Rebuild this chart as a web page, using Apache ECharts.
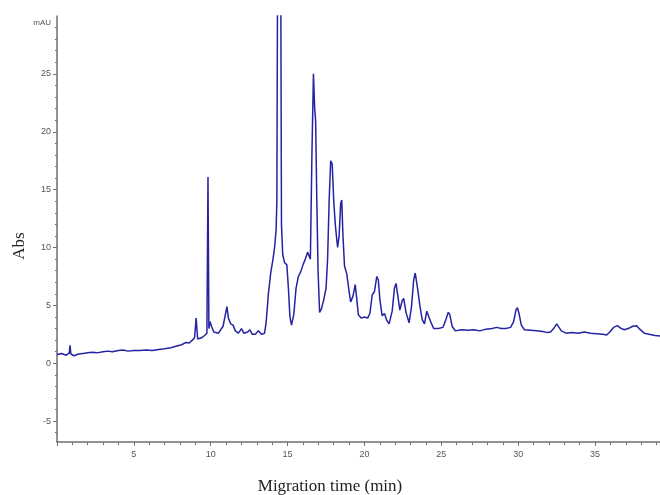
<!DOCTYPE html>
<html>
<head>
<meta charset="utf-8">
<script src="https://cdn.jsdelivr.net/npm/echarts@6/dist/echarts.min.js"></script>
<style>
  html, body { margin: 0; padding: 0; background: #fff; }
  #chart { width: 660px; height: 495px; }
</style>
</head>
<body>
<div id="chart"></div>
<script>
// Electropherogram trace: migration time (min) and absorbance (mAU)
const migrationTime = [
  0.0, 0.3, 0.6, 0.8, 0.85, 0.9, 1.1, 1.4, 1.7, 2.0, 2.3, 2.6, 3.0, 3.3, 3.6, 4.0, 4.3, 4.6, 5.0, 5.4,
  5.8, 6.2, 6.6, 7.0, 7.4, 7.8, 8.1, 8.4, 8.6, 8.8, 8.95, 9.05, 9.15, 9.4, 9.6, 9.75, 9.82, 9.88, 9.95, 10.05,
  10.2, 10.5, 10.8, 10.95, 11.05, 11.15, 11.3, 11.45, 11.6, 11.8, 12.0, 12.15, 12.4, 12.55, 12.7, 12.9, 13.1, 13.3, 13.5, 13.6,
  13.75, 13.9, 14.05, 14.15, 14.25, 14.3, 14.36, 14.54, 14.6, 14.68, 14.8, 14.95, 15.05, 15.15, 15.25, 15.4, 15.55, 15.7, 15.85, 16.0,
  16.15, 16.3, 16.4, 16.48, 16.58, 16.68, 16.76, 16.82, 16.9, 16.98, 17.08, 17.2, 17.35, 17.5, 17.6, 17.7, 17.8, 17.9, 18.0, 18.1,
  18.25, 18.35, 18.45, 18.52, 18.6, 18.7, 18.85, 19.0, 19.1, 19.25, 19.4, 19.5, 19.6, 19.8, 20.0, 20.2, 20.35, 20.5, 20.65, 20.8,
  20.9, 21.0, 21.15, 21.3, 21.45, 21.6, 21.8, 21.95, 22.05, 22.15, 22.3, 22.45, 22.55, 22.7, 22.9, 23.05, 23.2, 23.3, 23.45, 23.6,
  23.75, 23.9, 24.05, 24.15, 24.3, 24.5, 24.8, 25.1, 25.3, 25.45, 25.55, 25.7, 25.9, 26.3, 26.7, 27.1, 27.5, 27.9, 28.3, 28.6,
  28.9, 29.2, 29.5, 29.7, 29.85, 29.95, 30.05, 30.2, 30.4, 30.8, 31.2, 31.6, 31.9, 32.1, 32.3, 32.5, 32.6, 32.8, 33.1, 33.5,
  33.9, 34.3, 34.7, 35.1, 35.5, 35.75, 35.95, 36.2, 36.45, 36.7, 36.9, 37.15, 37.45, 37.7, 37.9, 38.2, 38.5, 38.9, 39.22
];
const absorbance = [
  0.75, 0.85, 0.7, 0.9, 1.55, 0.8, 0.65, 0.8, 0.85, 0.9, 0.95, 0.9, 1.0, 1.05, 1.0, 1.1, 1.15, 1.05, 1.1, 1.1,
  1.15, 1.1, 1.2, 1.25, 1.35, 1.5, 1.6, 1.8, 1.75, 2.0, 2.2, 3.9, 2.1, 2.2, 2.4, 2.6, 16.1, 3.0, 3.6, 3.2,
  2.7, 2.6, 3.2, 4.2, 4.9, 3.9, 3.4, 3.3, 2.8, 2.6, 3.0, 2.6, 2.7, 2.9, 2.5, 2.5, 2.8, 2.5, 2.6, 3.5,
  6.0, 7.8, 9.0, 10.0, 11.5, 14.0, 40.0, 40.0, 12.0, 9.4, 8.7, 8.5, 6.5, 4.0, 3.3, 4.2, 6.5, 7.5, 7.9, 8.5,
  9.0, 9.6, 9.7, 9.0, 18.0, 25.0, 22.0, 21.0, 14.0, 8.0, 4.4, 4.7, 5.5, 6.5, 9.0, 14.0, 17.5, 17.2, 14.0, 12.0,
  10.0, 11.0, 13.8, 14.1, 11.0, 8.4, 7.7, 6.2, 5.3, 5.8, 6.8, 5.5, 4.2, 3.9, 4.0, 3.9, 4.3, 5.9, 6.2, 7.5,
  7.2, 5.5, 4.1, 4.3, 3.7, 3.4, 4.5, 6.5, 6.9, 6.0, 4.6, 5.4, 5.6, 4.4, 3.5, 4.8, 7.2, 7.8, 6.5, 5.0,
  3.8, 3.4, 4.5, 4.6, 3.6, 3.0, 3.0, 3.1, 3.8, 4.4, 4.2, 3.2, 2.8, 2.9, 2.85, 2.9, 2.8, 2.95, 3.0, 3.1,
  3.0, 3.0, 3.1, 3.6, 4.6, 4.8, 4.3, 3.3, 2.9, 2.85, 2.8, 2.75, 2.65, 2.7, 3.0, 3.4, 3.3, 2.8, 2.6, 2.65,
  2.6, 2.7, 2.6, 2.55, 2.5, 2.45, 2.7, 3.1, 3.25, 3.0, 2.9, 3.0, 3.2, 3.25, 2.95, 2.6, 2.5, 2.4, 2.35
];

// Axis ticks and labels
const absLabelValues = [-5, 0, 5, 10, 15, 20, 25, 30];
const absMajorTicks = [-5, 0, 5, 10, 15, 20, 25];
const absMinorTicks = [];
for (let v = -6; v <= 29; v++) absMinorTicks.push(v);

const axisGrey = '#6f6f6f';
const labelFont = "'Liberation Sans Narrow', 'Liberation Sans', Arial, sans-serif";

const trace = migrationTime.map((t, i) => [t, absorbance[i]]);

const chart = echarts.init(document.getElementById('chart'), null, { renderer: 'canvas' });
chart.setOption({
  animation: false,
  backgroundColor: '#ffffff',
  grid: { left: 57, right: 0, top: 16, bottom: 53 },
  xAxis: {
    type: 'value',
    min: 0,
    max: 39.22,
    interval: 5,
    splitLine: { show: false },
    axisLine: { onZero: false, lineStyle: { color: axisGrey, width: 1.5 } },
    axisTick: { length: 4, lineStyle: { color: axisGrey } },
    minorTick: { show: true, splitNumber: 5, length: 3, lineStyle: { color: axisGrey } },
    axisLabel: {
      showMinLabel: false,
      showMaxLabel: false,
      margin: 8,
      fontSize: 9,
      color: '#555',
      fontFamily: labelFont
    }
  },
  yAxis: [
    {
      type: 'value',
      min: -6.8,
      max: 30,
      splitLine: { show: false },
      axisLine: { show: true, onZero: false, lineStyle: { color: axisGrey, width: 1.5 } },
      axisTick: { show: true, length: 4, customValues: absMajorTicks, lineStyle: { color: axisGrey } },
      axisLabel: {
        customValues: absLabelValues,
        margin: 6,
        fontSize: 9,
        color: '#555',
        fontFamily: labelFont,
        formatter: v => (v === 30 ? '{u|mAU}' : String(v)),
        rich: { u: { fontSize: 8, color: '#555', fontFamily: labelFont, padding: [13, 0, 0, 0] } }
      }
    },
    {
      type: 'value',
      min: -6.8,
      max: 30,
      position: 'left',
      splitLine: { show: false },
      axisLine: { show: false, onZero: false },
      axisLabel: { show: false },
      axisTick: { show: true, length: 2, customValues: absMinorTicks, lineStyle: { color: axisGrey } }
    }
  ],
  series: [{
    type: 'line',
    data: trace,
    yAxisIndex: 0,
    showSymbol: false,
    symbol: 'none',
    clip: true,
    lineStyle: { color: '#2323a3', width: 1.5 }
  }],
  graphic: [
    {
      type: 'text',
      x: 20, y: 246,
      rotation: Math.PI / 2,
      style: {
        text: 'Abs',
        font: "17px 'Liberation Serif', 'Times New Roman', serif",
        fill: '#222',
        align: 'center',
        verticalAlign: 'middle'
      }
    },
    {
      type: 'text',
      x: 330, y: 487,
      style: {
        text: 'Migration time (min)',
        font: "17px 'Liberation Serif', 'Times New Roman', serif",
        fill: '#222',
        align: 'center',
        verticalAlign: 'middle'
      }
    }
  ]
});
</script>
</body>
</html>
